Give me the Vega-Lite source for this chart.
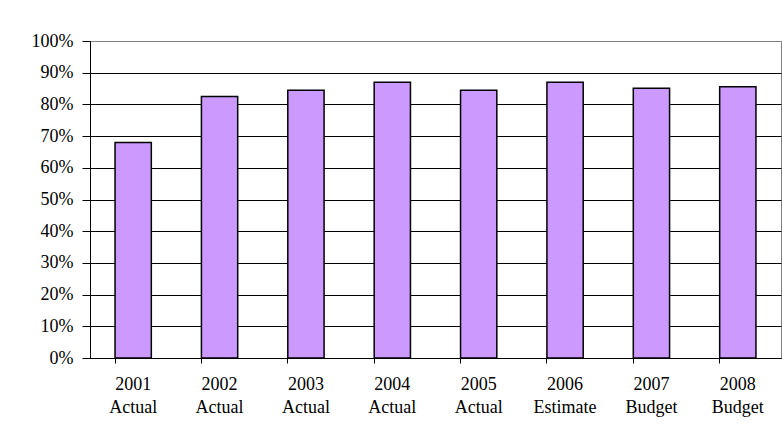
{
  "$schema": "https://vega.github.io/schema/vega-lite/v6.json",
  "width": 691,
  "height": 317,
  "autosize": {"type": "none"},
  "padding": {"left": 90, "top": 41, "right": 1, "bottom": 82},
  "background": "white",
  "config": {
    "view": {"stroke": "#808080", "strokeWidth": 1},
    "font": "Liberation Serif"
  },
  "data": {
    "values": [
      {"cat": "2001|Actual", "v": 0.68},
      {"cat": "2002|Actual", "v": 0.825},
      {"cat": "2003|Actual", "v": 0.845},
      {"cat": "2004|Actual", "v": 0.87},
      {"cat": "2005|Actual", "v": 0.845},
      {"cat": "2006|Estimate", "v": 0.87},
      {"cat": "2007|Budget", "v": 0.851},
      {"cat": "2008|Budget", "v": 0.856}
    ]
  },
  "mark": {"type": "bar", "fill": "#CC99FF", "stroke": "black", "strokeWidth": 1.5},
  "encoding": {
    "x": {
      "field": "cat",
      "type": "nominal",
      "sort": null,
      "scale": {"paddingInner": 0.58, "paddingOuter": 0.29},
      "axis": {
        "title": null,
        "labelAngle": 0,
        "labelExpr": "split(datum.label, '|')",
        "labelFont": "Liberation Serif",
        "labelFontSize": 18,
        "labelColor": "black",
        "labelLineHeight": 23,
        "labelPadding": 12,
        "tickSize": 5,
        "tickColor": "black",
        "domainColor": "black",
        "bandPosition": 0,
        "grid": false
      }
    },
    "y": {
      "field": "v",
      "type": "quantitative",
      "scale": {"domain": [0, 1]},
      "axis": {
        "title": null,
        "values": [0, 0.1, 0.2, 0.3, 0.4, 0.5, 0.6, 0.7, 0.8, 0.9, 1],
        "format": ".0%",
        "grid": true,
        "gridColor": {"condition": {"test": "datum.value >= 1", "value": "#808080"}, "value": "black"},
        "tickSize": 8,
        "tickColor": "black",
        "domainColor": "black",
        "labelPadding": 9,
        "labelFont": "Liberation Serif",
        "labelFontSize": 18,
        "labelColor": "black"
      }
    }
  }
}
